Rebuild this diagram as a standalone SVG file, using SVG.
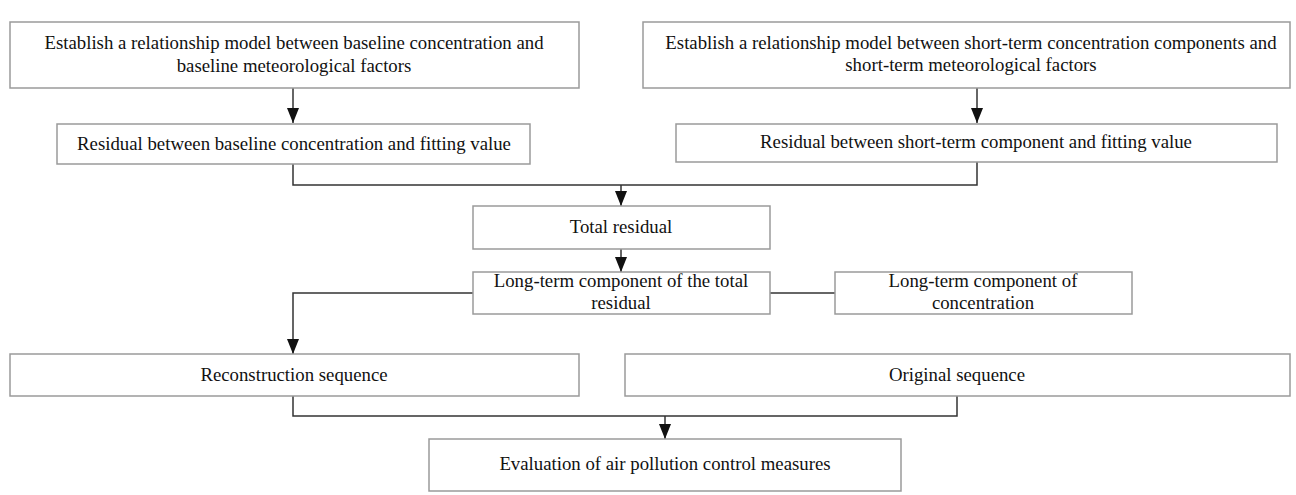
<svg xmlns="http://www.w3.org/2000/svg" width="1296" height="495" viewBox="0 0 1296 495">
<style>
.box{fill:#fff;stroke:#9a9a9a;stroke-width:1.5}
.t{font-family:"Liberation Serif","Times New Roman",serif;font-size:18.8px;fill:#111;text-anchor:middle}
.c{fill:none;stroke:#333;stroke-width:1.5}
</style>
<defs>
<marker id="ah" viewBox="0 0 15 12" refX="15" refY="6" markerWidth="15" markerHeight="12" markerUnits="userSpaceOnUse" orient="auto">
<path d="M0,0 L15,6 L0,12 z" fill="#111"/>
</marker>
</defs>
<rect width="1296" height="495" fill="#fff"/>
<g id="connectors">
<path class="c" d="M293,88 V123" marker-end="url(#ah)"/>
<path class="c" d="M977,88 V123" marker-end="url(#ah)"/>
<path class="c" d="M293,164 V185 H977 V162"/>
<path class="c" d="M621,185 V206" marker-end="url(#ah)"/>
<path class="c" d="M621,249 V272" marker-end="url(#ah)"/>
<path class="c" d="M770,293 H835"/>
<path class="c" d="M473,293 H293 V354" marker-end="url(#ah)"/>
<path class="c" d="M293,396 V416 H957 V396"/>
<path class="c" d="M665,416 V439" marker-end="url(#ah)"/>
</g>
<g id="n1"><rect class="box" x="10" y="22" width="569" height="66"/>
<text class="t" x="294" y="49">Establish a relationship model between baseline concentration and</text>
<text class="t" x="294" y="72">baseline meteorological factors</text></g>
<g id="n2"><rect class="box" x="643" y="22" width="647" height="66"/>
<text class="t" x="971" y="49">Establish a relationship model between short-term concentration components and</text>
<text class="t" x="971" y="71">short-term meteorological factors</text></g>
<g id="n3"><rect class="box" x="57" y="124" width="473" height="40"/>
<text class="t" x="294" y="150">Residual between baseline concentration and fitting value</text></g>
<g id="n4"><rect class="box" x="676" y="124" width="601" height="38"/>
<text class="t" x="976" y="148">Residual between short-term component and fitting value</text></g>
<g id="n5"><rect class="box" x="473" y="206" width="297" height="43"/>
<text class="t" x="621" y="233">Total residual</text></g>
<g id="n6"><rect class="box" x="473" y="272" width="297" height="42"/>
<text class="t" x="621" y="287">Long-term component of the total</text>
<text class="t" x="621" y="309">residual</text></g>
<g id="n7"><rect class="box" x="835" y="272" width="297" height="42"/>
<text class="t" x="983" y="287">Long-term component of</text>
<text class="t" x="983" y="309">concentration</text></g>
<g id="n8"><rect class="box" x="10" y="354" width="569" height="42"/>
<text class="t" x="294" y="381">Reconstruction sequence</text></g>
<g id="n9"><rect class="box" x="625" y="354" width="665" height="42"/>
<text class="t" x="957" y="381">Original sequence</text></g>
<g id="n10"><rect class="box" x="429" y="439" width="472" height="52"/>
<text class="t" x="665" y="470">Evaluation of air pollution control measures</text></g>
</svg>
